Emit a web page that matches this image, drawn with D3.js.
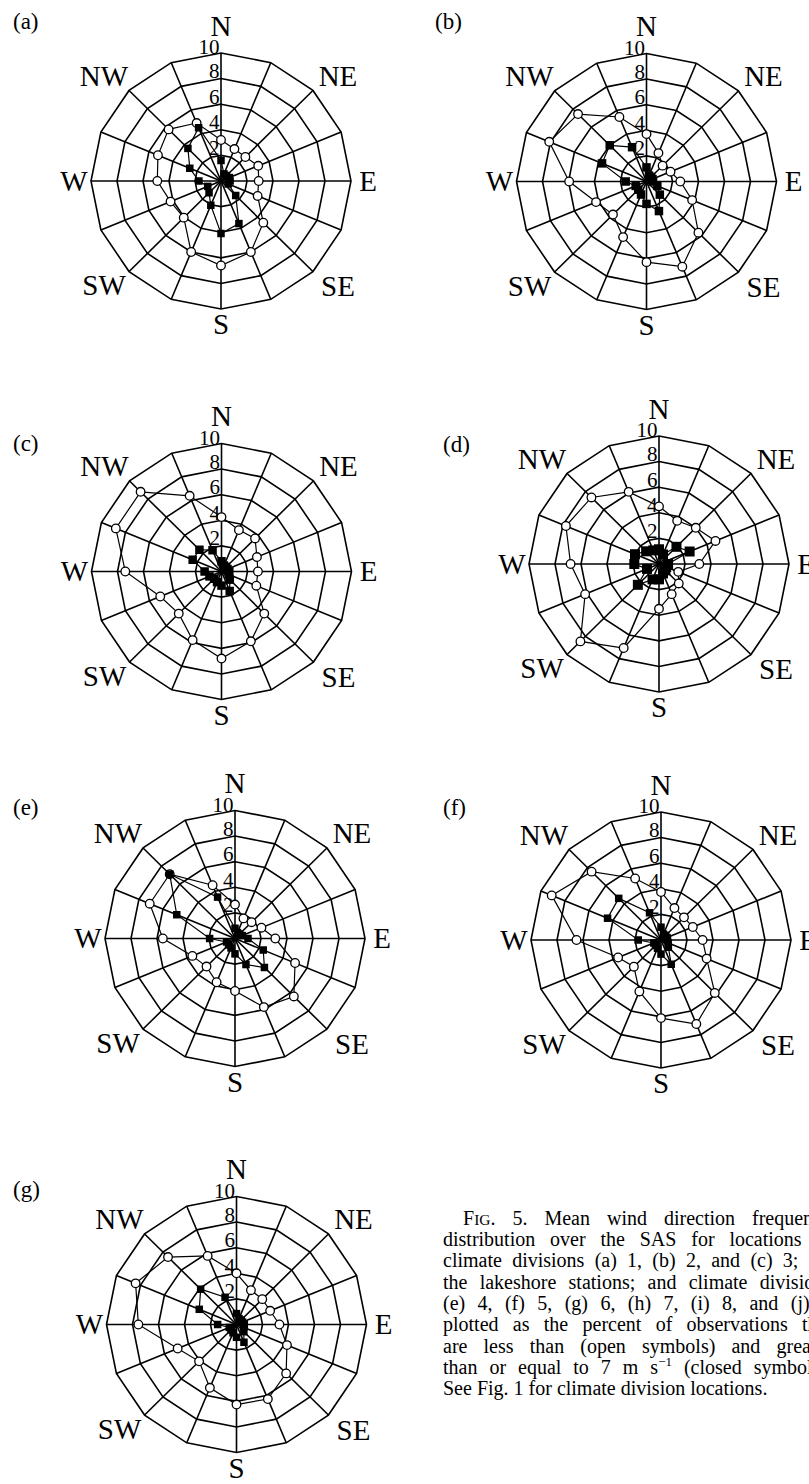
<!DOCTYPE html>
<html>
<head>
<meta charset="utf-8">
<script src="https://cdn.jsdelivr.net/npm/d3@7/dist/d3.min.js"></script>
<title>Fig 5 wind roses</title>
<style>
body { margin: 0; background: #fff; }
text { font-family: "Liberation Serif", "Times New Roman", serif; fill: #000; }
</style>
</head>
<body>
<svg id="mainsvg" width="809" height="1484"></svg>
<script>
// 16 compass directions, clockwise from north
const dirs = ["N","NNE","NE","ENE","E","ESE","SE","SSE","S","SSW","SW","WSW","W","WNW","NW","NNW"];
const rings = [2, 4, 6, 8, 10];
const compass = ["N","NE","E","SE","S","SW","W","NW"];
const panelNames = ["(a)","(b)","(c)","(d)","(e)","(f)","(g)"];

// percent of observations, < 7 m/s (open) and >= 7 m/s (closed)
const openA   = [3.2, 2.7, 2.65, 3.1, 2.9, 3.05, 4.6, 6.0, 6.6, 6.0, 4.05, 4.2, 4.9, 5.25, 5.7, 4.9];
const closedA = [1.6, 0.6, 0.6, 0.7, 0.7, 0.6, 1.6, 3.6, 4.1, 2.05, 1.3, 1.1, 1.7, 2.6, 3.6, 4.5];
const openB   = [3.7, 2.4, 1.75, 2.0, 2.6, 3.8, 5.65, 7.2, 6.3, 4.7, 3.65, 4.2, 5.95, 8.1, 7.45, 5.45];
const closedB = [1.1, 0.5, 0.5, 0.5, 0.5, 0.9, 1.45, 2.5, 1.75, 1.1, 0.9, 0.9, 1.6, 3.7, 4.0, 2.9];
const openC   = [4.25, 3.5, 3.65, 2.95, 2.8, 2.9, 4.65, 5.9, 6.8, 5.8, 4.65, 5.1, 7.4, 8.8, 8.8, 6.4];
const closedC = [0.8, 0.5, 0.5, 0.5, 0.6, 0.6, 0.9, 1.65, 1.1, 0.9, 0.8, 1.0, 1.3, 2.4, 2.4, 1.8];
const openD   = [4.5, 3.65, 4.0, 4.7, 3.1, 1.6, 2.15, 2.55, 3.5, 7.1, 8.55, 6.15, 6.8, 7.75, 7.35, 6.1];
const closedD = [1.15, 0.8, 1.9, 2.55, 0.7, 0.6, 0.7, 0.8, 1.2, 1.3, 2.3, 1.0, 1.9, 2.0, 1.4, 1.15];
const openE   = [2.65, 1.7, 1.8, 2.2, 3.1, 5.0, 6.4, 5.8, 4.1, 3.7, 3.1, 3.55, 5.55, 7.1, 7.1, 4.5];
const closedE = [0.8, 0.5, 0.5, 0.6, 1.0, 2.35, 3.2, 2.2, 1.2, 0.8, 0.7, 0.7, 1.95, 4.85, 7.1, 3.5];
const openF   = [3.75, 2.7, 2.5, 2.65, 3.2, 3.8, 5.85, 7.1, 6.1, 4.35, 2.95, 3.57, 6.5, 9.1, 7.55, 5.2];
const closedF = [1.0, 0.5, 0.5, 0.5, 0.5, 0.6, 0.8, 2.05, 1.1, 0.7, 0.6, 0.6, 1.75, 4.45, 4.6, 2.3];
const openG   = [4.0, 2.9, 2.8, 2.8, 3.3, 4.2, 5.4, 6.3, 6.25, 5.35, 4.07, 4.9, 7.55, 8.4, 7.45, 5.8];
const closedG = [0.85, 0.5, 0.5, 0.5, 0.6, 0.6, 0.8, 1.5, 1.0, 0.7, 0.6, 0.6, 1.45, 3.1, 3.9, 2.3];

const captionLines = [
  "Mean wind direction frequency",
  "distribution over the SAS for locations in",
  "climate divisions (a) 1, (b) 2, and (c) 3; (d)",
  "the lakeshore stations; and climate divisions",
  "(e) 4, (f) 5, (g) 6, (h) 7, (i) 8, and (j) 9",
  "plotted as the percent of observations that",
  "are less than (open symbols) and greater",
  "than or equal to 7 m s",
  "See Fig. 1 for climate division locations."
];

const svg = d3.select("#mainsvg");
svg.append("rect").attr("width", 809).attr("height", 1484).attr("fill", "#fff");

// layout of the seven panels
const panels = [
  {name: panelNames[0], open: openA, closed: closedA, cx: 221,   cy: 181,   lx: 13,  ly: 29,   sq: 7.5},
  {name: panelNames[1], open: openB, closed: closedB, cx: 646.5, cy: 181.5, lx: 435, ly: 29,   sq: 8.5},
  {name: panelNames[2], open: openC, closed: closedC, cx: 221.5, cy: 571.5, lx: 13,  ly: 451,  sq: 8.5},
  {name: panelNames[3], open: openD, closed: closedD, cx: 659,   cy: 564,   lx: 443, ly: 452,  sq: 10},
  {name: panelNames[4], open: openE, closed: closedE, cx: 235,   cy: 938.5, lx: 13,  ly: 815,  sq: 7.5},
  {name: panelNames[5], open: openF, closed: closedF, cx: 661,   cy: 940,   lx: 443, ly: 815,  sq: 7.5},
  {name: panelNames[6], open: openG, closed: closedG, cx: 236.5, cy: 1324.5, lx: 13, ly: 1197, sq: 7.5}
];

const R = 130, ky = 0.985;
const r = d3.scaleLinear().domain([0, 10]).range([0, R]);
const ang = d3.scaleLinear().domain([0, dirs.length]).range([0, 2 * Math.PI]);
const pt = (i, v) => [r(v) * Math.sin(ang(i)), -r(v) * Math.cos(ang(i)) * ky];
const closedLine = d3.line().curve(d3.curveLinearClosed);

// compass label offsets from the centre
const compassPos = {
  N: [0, -145.5], NE: [117, -95.5], E: [147, 9.5], SE: [117, 115],
  S: [0, 153], SW: [-117, 114], W: [-147, 9.5], NW: [-117, -95.5]
};

panels.forEach(p => {
  svg.append("text").attr("x", p.lx).attr("y", p.ly)
    .attr("font-size", 23).text(p.name);

  const g = svg.append("g").attr("transform", `translate(${p.cx},${p.cy})`);

  g.selectAll(".ring").data(rings).join("path")
    .attr("class", "ring")
    .attr("d", d => closedLine(dirs.map((_, i) => pt(i, d))))
    .attr("fill", "none").attr("stroke", "#000").attr("stroke-width", 1.6);

  g.selectAll(".spoke").data(dirs).join("line")
    .attr("class", "spoke")
    .attr("x1", 0).attr("y1", 0)
    .attr("x2", (d, i) => pt(i, 10)[0]).attr("y2", (d, i) => pt(i, 10)[1])
    .attr("stroke", "#000").attr("stroke-width", 1.6);

  g.selectAll(".tick").data(rings).join("text")
    .attr("class", "tick")
    .attr("x", -1.5)
    .attr("y", d => pt(0, d)[1] + (d === 10 ? 1.5 : -0.5))
    .attr("text-anchor", "end").attr("font-size", 21)
    .text(d => d);

  g.selectAll(".compass").data(compass).join("text")
    .attr("class", "compass")
    .attr("x", d => compassPos[d][0]).attr("y", d => compassPos[d][1])
    .attr("text-anchor", "middle").attr("font-size", 29)
    .text(d => d);

  // series lines
  [p.open, p.closed].forEach(vals => {
    g.append("path")
      .attr("d", closedLine(vals.map((v, i) => pt(i, v))))
      .attr("fill", "none").attr("stroke", "#000").attr("stroke-width", 1.2);
  });

  g.selectAll(".openpt").data(p.open).join("circle")
    .attr("class", "openpt")
    .attr("cx", (d, i) => pt(i, d)[0])
    .attr("cy", (d, i) => pt(i, d)[1])
    .attr("r", 4.3)
    .attr("fill", "#fff").attr("stroke", "#000").attr("stroke-width", 1.3);

  g.selectAll(".closedpt").data(p.closed).join("rect")
    .attr("class", "closedpt")
    .attr("x", (d, i) => pt(i, d)[0] - p.sq / 2)
    .attr("y", (d, i) => pt(i, d)[1] - p.sq / 2)
    .attr("width", p.sq).attr("height", p.sq)
    .attr("fill", "#000");
});

// caption, justified to a column that runs past the right edge
const capX = 443, capRight = 832, capY = 1224.5, capDy = 21.35;
const cap = svg.append("g").attr("font-size", 20);
captionLines.forEach((line, i) => {
  const x0 = i === 0 ? capX + 20 : capX;
  const t = cap.append("text").attr("x", x0).attr("y", capY + i * capDy);
  if (i === 0) {
    t.append("tspan").text("F");
    t.append("tspan").attr("font-size", 15.5).text("IG");
    t.append("tspan").text(". 5. " + line);
  } else if (i === 7) {
    t.append("tspan").text(line);
    t.append("tspan").attr("font-size", 13).attr("dy", -8).text("\u22121");
    t.append("tspan").attr("dy", 8).text(" (closed symbols).");
  } else {
    t.text(line);
  }
  if (i < captionLines.length - 1) {
    const natural = t.node().getComputedTextLength();
    const spaces = (t.text().match(/ /g) || []).length;
    if (spaces > 0) t.attr("word-spacing", Math.max(0, (capRight - x0 - natural) / spaces));
  }
});
</script>
</body>
</html>
